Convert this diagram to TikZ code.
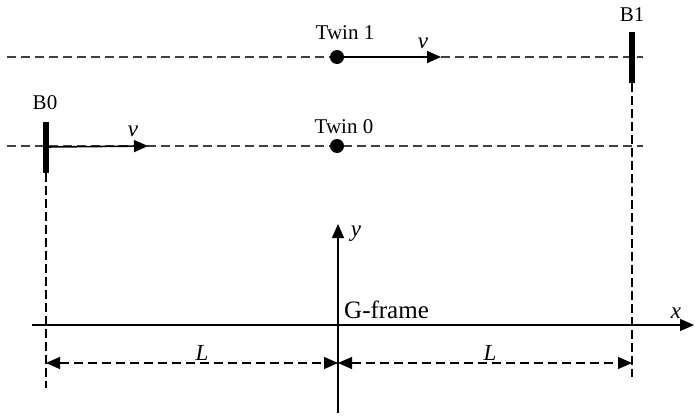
\documentclass[tikz,border=0pt]{standalone}
\usepackage{fontspec}
\setmainfont{Liberation Serif}
\usetikzlibrary{arrows.meta}
\begin{document}
\begin{tikzpicture}[x=1pt,y=-1pt,
  lbl/.style={font=\fontsize{21}{25}\selectfont, inner sep=0pt},
  ilbl/.style={font=\fontsize{23}{27}\selectfont\itshape, inner sep=0pt},
  dline/.style={line width=1.2pt, dash pattern=on 9pt off 5pt, draw=black!75},
  vline/.style={line width=1.1pt, dash pattern=on 9pt off 4pt},
  dot/.style={circle, fill=black, minimum size=14pt, inner sep=0pt},
  barbox/.style={fill=black, minimum width=5.5pt, minimum height=51pt, inner sep=0pt},
  tri/.style={-{Triangle[length=14pt,width=12pt]}},
  dim/.style={{Triangle[length=14pt,width=12pt]}-{Triangle[length=14pt,width=12pt]}, line width=1.2pt, dash pattern=on 9pt off 5pt},
  axis/.style={line width=1.3pt}]
\useasboundingbox (0,0) rectangle (695,415);
% coordinates
\coordinate (l1a) at (7,57);
\coordinate (l1b) at (643,57);
\coordinate (l0a) at (7,146);
\coordinate (l0b) at (643,146);
% dashed motion lines
\draw[dline] (l1a) -- (l1b);
\draw[dline] (l0a) -- (l0b);
% bars
\node[barbox] (b1) at (632,57.5) {};
\node[barbox] (b0) at (46,147) {};
\coordinate (b1end) at (632,377);
\coordinate (b0end) at (46,388);
\draw[vline] (b1.south) -- (b1end);
\draw[vline] (b0.south) -- (b0end);
% dots
\node[dot] (t1) at (337,57) {};
\node[dot] (t0) at (337,146) {};
% velocity arrows
\coordinate (v1) at (441,57);
\coordinate (v0) at (148,146);
\draw[tri, line width=1.6pt] (t1.center) -- (v1);
\draw[tri, line width=1.6pt] (b0.center) -- (v0);
% axes
\coordinate (xa) at (32,325);
\coordinate (xb) at (694,325);
\coordinate (ya) at (338,413);
\coordinate (yb) at (338,224);
\draw[axis, tri] (xa) -- (xb);
\draw[axis, tri] (ya) -- (yb);
% dimension lines
\coordinate (d0) at (46,363);
\coordinate (dm) at (338,363);
\coordinate (d1) at (632,363);
\draw[dim] (d0) -- (dm);
\draw[dim] (dm) -- (d1);
% labels
\node[lbl] (lt1) at (345,33) {Twin 1};
\node[lbl] (lt0) at (344,127) {Twin 0};
\node[lbl] (lb1) at (632,15) {B1};
\node[lbl] (lb0) at (45,103) {B0};
\node[ilbl] (lv1) at (423,43) {v};
\node[ilbl] (lv0) at (133,131) {v};
\node[ilbl] (lx) at (676,313) {x};
\node[ilbl] (ly) at (356,234) {y};
\node[lbl, font=\fontsize{25}{30}\selectfont, anchor=base west] (lg) at (344,318) {G-frame};
\node[ilbl] (lL0) at (202,353) {L};
\node[ilbl] (lL1) at (490,353) {L};
\end{tikzpicture}
\end{document}
